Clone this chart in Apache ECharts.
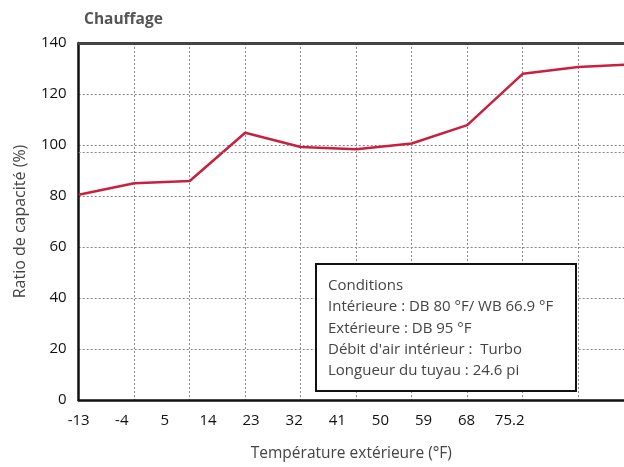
<!DOCTYPE html>
<html>
<head>
<meta charset="utf-8">
<script src="https://cdn.jsdelivr.net/npm/echarts@6/dist/echarts.min.js"></script>
<style>
  html, body { margin: 0; padding: 0; background: #fff; }
  #main { width: 624px; height: 467px; }
</style>
</head>
<body>
<div id="main"></div>
<script>
// x labels (outdoor temperature, °F) and capacity ratio (%)
const tempLabels = ['-13', '-4', '5', '14', '23', '32', '41', '50', '59', '68', '75.2']
const capacity = [80.5, 85.0, 85.9, 104.8, 99.2, 98.3, 100.6, 107.8, 127.9, 130.6, 131.6]
const conditions = [
  'Conditions',
  'Intérieure : DB 80 °F/ WB 66.9 °F',
  'Extérieure : DB 95 °F',
  'Débit d\'air intérieur :  Turbo',
  'Longueur du tuyau : 24.6 pi'
]

const font = '"Open Sans", "DejaVu Sans", sans-serif'
const chart = echarts.init(document.getElementById('main'))

// grid spans 78.7 -> 624, point spacing 55.5px, label spacing 43.1px
const gridW = 624 - 78.7

chart.setOption({
  animation: false,
  title: {
    text: 'Chauffage',
    left: 79,
    top: 7,
    textStyle: { fontFamily: font, fontSize: 15.5, fontWeight: 'bold', color: '#555' }
  },
  grid: { left: 78.7, right: 0, top: 43, bottom: 64, containLabel: false },
  xAxis: [
    {
      type: 'value',
      min: 0,
      max: gridW / 55.5,
      interval: 1,
      position: 'bottom',
      axisLine: { lineStyle: { color: '#111', width: 2.5 } },
      axisTick: { show: false },
      axisLabel: { show: false },
      splitLine: { show: true, lineStyle: { color: '#888', type: [2, 2], width: 1 } }
    },
    {
      type: 'value',
      min: 0,
      max: gridW / 43.1,
      interval: 1,
      position: 'bottom',
      axisLine: { show: false },
      axisTick: { show: false },
      splitLine: { show: false },
      axisLabel: {
        margin: 13,
        fontFamily: font,
        fontSize: 15,
        color: '#111',
        showMaxLabel: false,
        formatter: v => tempLabels[v] !== undefined && Number.isInteger(v) ? tempLabels[v] : ''
      },
      name: 'Température extérieure (°F)',
      nameLocation: 'middle',
      nameGap: 46,
      nameTextStyle: { fontFamily: font, fontSize: 15.5, color: '#444' }
    },
    {
      type: 'value',
      min: 0,
      max: 10,
      position: 'top',
      axisLine: { show: true, lineStyle: { color: '#444', width: 3 } },
      axisTick: { show: false },
      axisLabel: { show: false },
      splitLine: { show: false }
    }
  ],
  yAxis: {
    type: 'value',
    min: 0,
    max: 140,
    interval: 20,
    axisLine: { show: true, lineStyle: { color: '#111', width: 2.5 } },
    axisTick: { show: false },
    axisLabel: { margin: 12, fontFamily: font, fontSize: 15, color: '#111' },
    splitLine: { show: true, lineStyle: { color: '#888', type: [2, 2], width: 1 } },
    name: 'Ratio de capacité (%)',
    nameLocation: 'middle',
    nameGap: 50,
    nameTextStyle: { fontFamily: font, fontSize: 16, color: '#444' }
  },
  series: [
    {
      type: 'line',
      xAxisIndex: 0,
      data: capacity.map((v, i) => [i, v]),
      symbol: 'none',
      lineStyle: { color: '#c8203f', width: 2.5 },
      markLine: {
        silent: true,
        symbol: 'none',
        label: { show: false },
        lineStyle: { color: '#888', type: [2, 2], width: 1 },
        data: [{ yAxis: 97 }]
      }
    }
  ],
  graphic: [
    {
      type: 'rect',
      left: 315,
      top: 263,
      shape: { width: 260, height: 127 },
      style: { fill: '#fff', stroke: '#111', lineWidth: 2 },
      z: 10
    },
    {
      type: 'text',
      left: 328,
      top: 275,
      style: {
        text: conditions.join('\n'),
        font: '15px ' + font,
        lineHeight: 21.3,
        fill: '#444'
      },
      z: 11
    }
  ]
})
</script>
</body>
</html>
